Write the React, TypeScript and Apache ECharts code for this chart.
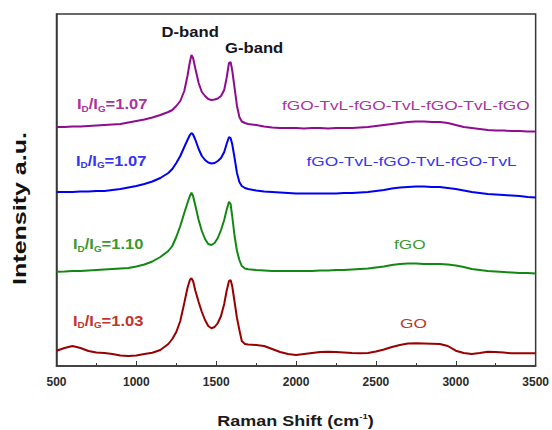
import React, { useEffect, useRef } from "react";
import * as echarts from "echarts";

const ramanShift = [
  500, 550, 600, 650, 700, 750, 800, 850, 900, 950, 1000, 1050, 1100, 1150, 1200,
  1225, 1250, 1275, 1300,
  1320, 1335, 1345, 1355, 1370,
  1390, 1410, 1430, 1450, 1470, 1490, 1510, 1530, 1550,
  1565, 1580, 1590, 1600, 1615, 1630, 1645, 1660, 1680, 1700,
  1750, 1800, 1850, 1900, 1950, 2000, 2050, 2100, 2150, 2200, 2250, 2300,
  2350, 2400, 2450, 2500, 2550, 2600, 2650, 2700, 2750, 2800, 2850, 2900,
  2950, 3000, 3050, 3100, 3150, 3200, 3250, 3300, 3350, 3400, 3450, 3500,
];

const multilayer7 = [
  239, 239, 239.5, 239.5, 240, 240.5, 241, 241.5, 242, 243.5, 245, 246.5, 248.5, 251, 254,
  256, 260, 265, 275,
  290, 304, 311, 308, 297,
  283, 274, 270, 267, 266, 266.5, 267.5, 270, 276,
  288, 303, 304, 296, 278, 260, 249, 244.5, 243, 242,
  241, 239.5, 238.5, 238, 238, 238, 237.5, 238, 238, 237.5, 238, 238,
  238, 238.5, 239, 240, 241, 242, 243, 244, 244.5, 244.5, 244, 244,
  243, 241, 239, 238, 237, 236, 235.5, 235.5, 235, 235, 234.5, 234.5,
];

const multilayer6 = [
  174, 174, 174, 174.5, 174.5, 175, 175, 176, 177, 178.5, 180, 182, 184.5, 188, 193,
  197, 203, 210, 219,
  226, 231, 233, 231.5, 226,
  217, 210, 206, 203.5, 202.5, 203, 205, 208, 214,
  222, 229, 228, 222, 208, 193, 184, 180, 178, 177,
  175.5, 174.5, 174, 173.5, 173, 172.5, 172.5, 172.5, 172.5, 172.5, 172.5, 173,
  173, 173.5, 174, 175, 176, 177.5, 178.5, 179, 179.5, 179.5, 179, 179,
  178, 177, 175.5, 174, 173, 172, 171.5, 171, 170.5, 170, 169, 168.5,
];

const fGO = [
  94.3, 94.5, 95, 95, 95.5, 96, 96.5, 97, 97.5, 98, 99.5, 101.5, 104.5, 109, 115,
  120, 129, 140, 153,
  163, 170, 173.3, 170, 160,
  146, 135, 127, 122, 121, 123, 128, 136, 146,
  156, 164.3, 162, 150, 130, 115, 106, 100, 97.5, 96.7,
  96, 95.5, 95, 95, 95, 95, 95, 95, 95.5, 95.5, 96, 96,
  96.5, 97, 97.5, 98.5, 99.5, 101, 102, 102.5, 102.5, 102, 102, 102,
  101.5, 100.5, 99, 97, 96, 95, 94.5, 94, 93.5, 93, 93, 92.5,
];

const GO = [
  15.3, 18, 20, 18, 15, 13.5, 13, 12, 10.5, 10, 10.5, 12, 13.3, 16, 22,
  27, 34, 45, 63,
  78, 86, 87.7, 85, 75,
  64, 54, 46, 40, 37.7, 39, 43, 50, 62,
  75, 85, 86, 80, 64, 48, 36, 25, 22, 21.5,
  21, 20, 17, 14, 12, 11, 12, 13, 14, 14.3, 14, 13.5,
  13, 12.7, 13, 14.5, 16.5, 19, 21, 22.5, 22.7, 22.5, 22.3, 22,
  20, 15.3, 13, 12, 13, 14.3, 14, 13.5, 12.7, 12.7, 12.7, 12.7,
];

const xTicks = [500, 1000, 1500, 2000, 2500, 3000, 3500];

const seriesNames = ["fGO-TvL-fGO-TvL-fGO-TvL-fGO", "fGO-TvL-fGO-TvL-fGO-TvL", "fGO", "GO"];
const seriesData = [multilayer7, multilayer6, fGO, GO];
const ratios = ["1.07", "1.07", "1.10", "1.03"];
const lineColors = ["#8e0c8e", "#0000f2", "#128812", "#990000"];
const labelColors = ["#ac329e", "#3434f4", "#3a9a2c", "#c2342c"];

const FONT = "Liberation Sans, Arial, sans-serif";

export default function App() {
  const ref = useRef<HTMLDivElement>(null);

  useEffect(() => {
    if (!ref.current) return;
    const chart = echarts.init(ref.current, undefined, { renderer: "svg" });

    const ratioPos = [
      { x: 77, y: 104 },
      { x: 76, y: 160.5 },
      { x: 73, y: 244 },
      { x: 73, y: 320.5 },
    ];
    const namePos = [
      { x: 282, y: 105 },
      { x: 306.5, y: 161.5 },
      { x: 394, y: 244 },
      { x: 400, y: 323 },
    ];

    const graphics: any[] = [];
    ratios.forEach((r, i) => {
      const c = labelColors[i];
      graphics.push({
        type: "text",
        x: ratioPos[i].x,
        y: ratioPos[i].y,
        scaleX: 1.1,
        style: {
          text: `{b|I}{s|D}{b|/I}{s|G}{b|=${r}}`,
          verticalAlign: "middle",
          rich: {
            b: { fontSize: 15, fontWeight: "bold", fill: c, fontFamily: FONT, lineHeight: 18 },
            s: { fontSize: 9, fontWeight: "bold", fill: c, fontFamily: FONT, lineHeight: 3, verticalAlign: "bottom" },
          },
        },
      });
      graphics.push({
        type: "text",
        x: namePos[i].x,
        y: namePos[i].y,
        scaleX: 1.28,
        style: {
          text: seriesNames[i],
          fontSize: 13.5,
          fontFamily: FONT,
          fill: c,
          verticalAlign: "middle",
        },
      });
    });
    graphics.push({
      type: "text",
      x: 161.5,
      y: 31.7,
      scaleX: 1.19,
      style: { text: "D-band", fontSize: 14, fontWeight: "bold", fontFamily: FONT, fill: "#151520", verticalAlign: "middle" },
    });
    graphics.push({
      type: "text",
      x: 225,
      y: 48.3,
      scaleX: 1.19,
      style: { text: "G-band", fontSize: 14, fontWeight: "bold", fontFamily: FONT, fill: "#151520", verticalAlign: "middle" },
    });
    graphics.push({
      type: "text",
      x: 295.5,
      y: 421,
      scaleX: 1.2,
      style: {
        text: "{t|Raman Shift (cm}{u|-1}{t|)}",
        align: "center",
        verticalAlign: "middle",
        rich: {
          t: { fontSize: 15, fontWeight: "bold", fontFamily: FONT, fill: "#1a1a1a", lineHeight: 18 },
          u: { fontSize: 8, fontWeight: "bold", fontFamily: FONT, fill: "#1a1a1a", lineHeight: 8, verticalAlign: "top" },
        },
      },
    });
    graphics.push({
      type: "text",
      x: 20,
      y: 208.5,
      rotation: Math.PI / 2,
      scaleX: 1.39,
      style: {
        text: "Intensity a.u.",
        fontSize: 18,
        fontWeight: "bold",
        fontFamily: FONT,
        fill: "#111",
        align: "center",
        verticalAlign: "middle",
      },
    });

    chart.setOption({
      animation: false,
      grid: { left: 56.5, right: 14.5, top: 14, bottom: 64, show: true, borderColor: "#383838", borderWidth: 1.5, backgroundColor: "transparent" },
      xAxis: {
        type: "value",
        min: 500,
        max: 3500,
        interval: 500,
        axisLine: { show: true, lineStyle: { color: "#383838", width: 1.5 } },
        axisTick: { show: true, inside: true, length: 5, lineStyle: { color: "#383838" } },
        minorTick: { show: true, splitNumber: 2, length: 3, lineStyle: { color: "#383838" } },
        splitLine: { show: false },
        axisLabel: {
          fontSize: 12,
          fontWeight: "bold",
          fontFamily: FONT,
          color: "#2a2a2a",
          margin: 10,
          formatter: (v: number) => (xTicks.includes(v) ? String(v) : ""),
        },
      },
      yAxis: {
        type: "value",
        min: 0,
        max: 352,
        axisLine: { show: true, lineStyle: { color: "#383838", width: 1.5 } },
        axisTick: { show: false },
        axisLabel: { show: false },
        splitLine: { show: false },
      },
      series: seriesData.map((d, i) => ({
        type: "line",
        name: seriesNames[i],
        data: ramanShift.map((x, j) => [x, d[j]]),
        showSymbol: false,
        lineStyle: { color: lineColors[i], width: 2 },
        itemStyle: { color: lineColors[i] },
      })),
      graphic: graphics,
    });

    return () => chart.dispose();
  }, []);

  return <div ref={ref} style={{ width: 552, height: 430, position: "absolute", left: 0, top: 0 }} />;
}
